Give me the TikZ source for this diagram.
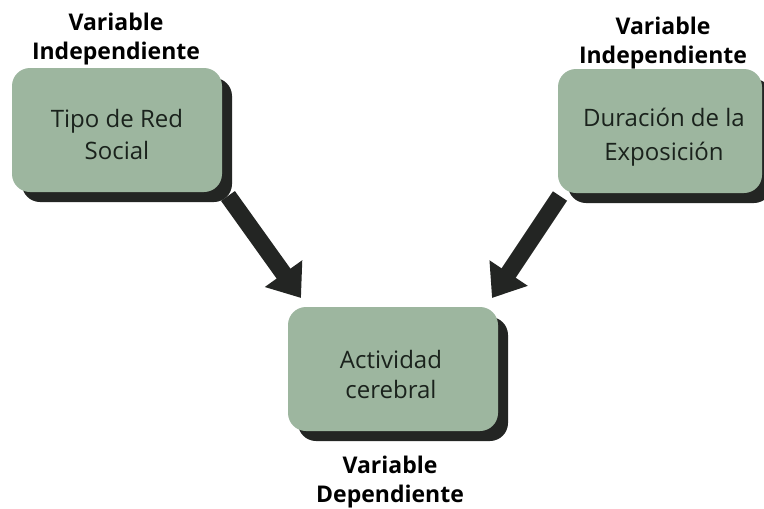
\documentclass[tikz,border=0pt]{standalone}
\usepackage{fontspec}
\setmainfont{Open Sans}
\usetikzlibrary{shadows,arrows.meta}
\definecolor{boxgreen}{HTML}{9DB69F}
\definecolor{boxshadow}{HTML}{232523}
\definecolor{inktext}{HTML}{1A221C}
\begin{document}
\begin{tikzpicture}[x=1pt,y=-1pt,
  varbox/.style={draw=none, fill=boxgreen, rounded corners=18pt,
    minimum width=210pt, minimum height=124pt,
    drop shadow={shadow xshift=10pt, shadow yshift=-10pt, fill=boxshadow, opacity=1}},
  boxtext/.style={align=center, text=inktext, font=\fontsize{24}{32}\selectfont},
  tag/.style={align=center, font=\fontsize{23}{29}\selectfont\bfseries, text=black},
  bigarrow/.style={draw=boxshadow, line width=17pt,
    -{Triangle[width=44pt,length=30pt]}}]
\useasboundingbox (0,0) rectangle (764,509);
\fill[white] (0,0) rectangle (764,509);

% boxes
\node[varbox] (red) at (117,130) {};
\node[varbox, minimum width=204pt] (dur) at (660,131) {};
\node[varbox] (act) at (393,369) {};

% box contents
\node[boxtext] (redtxt) at (117,134) {Tipo de Red\\Social};
\node[boxtext, font=\fontsize{24}{34}\selectfont] (durtxt) at (664,137) {Duración de la\\Exposición};
\node[boxtext, font=\fontsize{24}{30}\selectfont] (acttxt) at (391,374) {Actividad\\cerebral};

% variable labels
\node[tag] (tagred) at (116,39) {Variable\\Independiente};
\node[tag] (tagdur) at (663,43) {Variable\\Independiente};
\node[tag] (tagact) at (390,482) {Variable\\Dependiente};

% arrow anchors
\coordinate (redout) at (228,196);
\coordinate (redin) at (301,298);
\coordinate (durout) at (560,196);
\coordinate (durin) at (492,298);

\draw[bigarrow] (redout) -- (redin);
\draw[bigarrow] (durout) -- (durin);
\end{tikzpicture}
\end{document}
